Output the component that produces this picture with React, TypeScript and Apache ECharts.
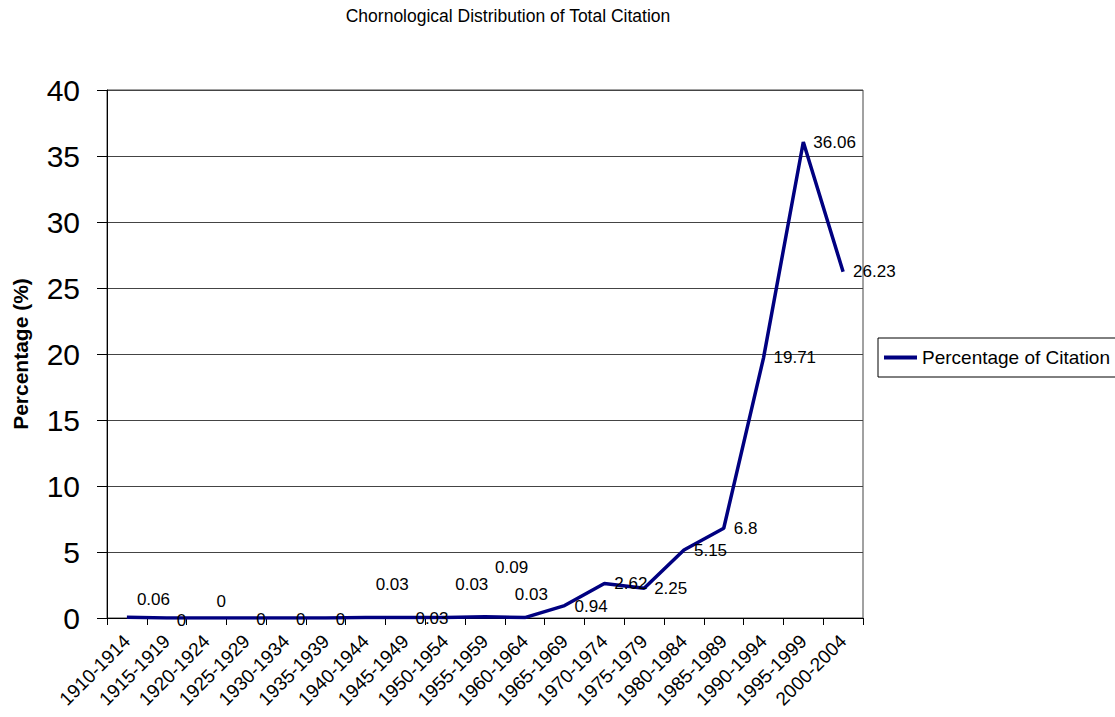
import React, { useEffect, useRef } from "react";
import * as echarts from "echarts";

const categories = [
  "1910-1914", "1915-1919", "1920-1924", "1925-1929", "1930-1934",
  "1935-1939", "1940-1944", "1945-1949", "1950-1954", "1955-1959",
  "1960-1964", "1965-1969", "1970-1974", "1975-1979", "1980-1984",
  "1985-1989", "1990-1994", "1995-1999", "2000-2004",
];
const percentages = [
  0.06, 0, 0, 0, 0, 0, 0.03, 0.03, 0.03, 0.09,
  0.03, 0.94, 2.62, 2.25, 5.15, 6.8, 19.71, 36.06, 26.23,
];
const seriesName = "Percentage of Citation";
const titleText = "Chornological Distribution of Total Citation";
const yAxisName = "Percentage (%)";

// label placement tweaks (style only)
const labelDx = [0, 0, 0, 0, 0, 0, 0, 0, 0, 0, -20, 0, 0, 0, 0, 0, 0, 0, 0];
const labelDy = [-18, 2, -17, 1, 1, 1, -33, 1, -33, -49, -23, 1, 0, 0, 0, 0, 0, 0, 0];

const FONT = "'Liberation Sans', Arial, sans-serif";

export default function App() {
  const ref = useRef<HTMLDivElement>(null);
  useEffect(() => {
    if (!ref.current) return;
    const chart = echarts.init(ref.current, undefined, { renderer: "svg" });
    chart.setOption({
      animation: false,
      backgroundColor: "#ffffff",
      textStyle: { fontFamily: FONT, color: "#000" },
      graphic: [
        {
          type: "text",
          x: 508,
          y: 16,
          style: {
            text: titleText,
            align: "center",
            verticalAlign: "middle",
            fontSize: 17.5,
            fontFamily: FONT,
            fill: "#000",
          },
        },
      ],
      legend: {
        data: [seriesName],
        left: 878,
        top: 338,
        orient: "vertical",
        padding: [10, 6, 10, 6],
        borderColor: "#000",
        borderWidth: 1,
        icon: "rect",
        itemWidth: 33,
        itemHeight: 4,
        textStyle: { fontSize: 19, color: "#000", fontFamily: FONT },
      },
      grid: {
        left: 107,
        right: 252,
        top: 90,
        bottom: 99,
        show: true,
        borderColor: "#444",
        borderWidth: 1,
      },
      xAxis: {
        type: "category",
        data: categories,
        boundaryGap: true,
        axisLine: { show: true, lineStyle: { color: "#000", width: 1 } },
        axisTick: { show: true, length: 7, alignWithLabel: false, lineStyle: { color: "#000" } },
        axisLabel: {
          rotate: 45,
          interval: 0,
          fontSize: 19,
          color: "#000",
          fontFamily: FONT,
          margin: 20,
        },
        splitLine: { show: false },
      },
      yAxis: {
        type: "value",
        min: 0,
        max: 40,
        interval: 5,
        name: yAxisName,
        nameLocation: "middle",
        nameRotate: 90,
        nameGap: 76,
        nameTextStyle: { fontSize: 21, fontWeight: "bold", color: "#000", fontFamily: FONT },
        axisLine: { show: true, lineStyle: { color: "#000", width: 1 } },
        axisTick: { show: true, length: 10, lineStyle: { color: "#000" } },
        axisLabel: { fontSize: 30, color: "#000", margin: 27, fontFamily: FONT },
        splitLine: { show: true, lineStyle: { color: "#444", width: 1 } },
      },
      series: [
        {
          name: seriesName,
          type: "line",
          data: percentages.map((v, i) => ({
            value: v,
            label: { offset: [labelDx[i], labelDy[i]] },
          })),
          symbol: "circle",
          symbolSize: 0.01,
          showSymbol: true,
          lineStyle: { color: "#000080", width: 3.5 },
          itemStyle: { color: "#000080" },
          label: {
            show: true,
            position: "right",
            distance: 10,
            fontSize: 17,
            color: "#000",
            fontFamily: FONT,
          },
        },
      ],
    });
    return () => chart.dispose();
  }, []);
  return (
    <div
      ref={ref}
      style={{ position: "fixed", left: 0, top: 0, width: 1115, height: 717 }}
    />
  );
}
